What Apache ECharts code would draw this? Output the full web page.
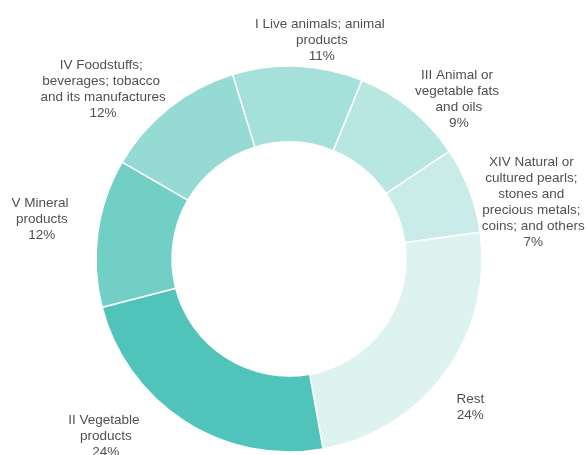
<!DOCTYPE html>
<html>
<head>
<meta charset="utf-8">
<script src="https://cdn.jsdelivr.net/npm/echarts@6/dist/echarts.min.js"></script>
<style>
html, body { margin: 0; padding: 0; background: #fff; }
#chart { width: 587px; height: 455px; }
</style>
</head>
<body>
<div id="chart"></div>
<script>
// slices, clockwise from the top
const categories = [
    'I Live animals; animal products',
    'III Animal or vegetable fats and oils',
    'XIV Natural or cultured pearls; stones and precious metals; coins; and others',
    'Rest',
    'II Vegetable products',
    'V Mineral products',
    'IV Foodstuffs; beverages; tobacco and its manufactures'
]
const shares = [10.9, 9.4, 7.2, 24.4, 23.8, 12.4, 11.9]
const colors = ['#a6e0da', '#b8e6e1', '#c9ece8', '#dcf3f0', '#50c4bb', '#72cfc6', '#95dad3']

// label wrap width and nudge from the slice's outer mid point
const wrapWidths = [140, 92, 108, 60, 80, 62, 132]
const labelShift = [[24, -25.5], [48, -10], [64, 12], [25, 35], [-79, 15], [-56, -13], [-66, -18.5]]

const chart = echarts.init(document.getElementById('chart'))

chart.setOption({
    animation: false,
    series: [{
        type: 'pie',
        center: [289, 259],
        radius: [117, 193],
        startAngle: 107,
        clockwise: true,
        avoidLabelOverlap: false,
        itemStyle: { borderColor: '#fff', borderWidth: 1.5 },
        label: {
            position: 'outside',
            color: '#505050',
            fontFamily: 'Liberation Sans, Arial, sans-serif',
            fontSize: 13.5,
            lineHeight: 16,
            overflow: 'break',
            formatter: p => p.name + '\n' + Math.round(p.percent) + '%'
        },
        labelLine: { show: true, length: 8, length2: 0, lineStyle: { opacity: 0 } },
        labelLayout: p => {
            const pts = p.labelLinePoints
            if (!pts) return {}
            const s = labelShift[p.dataIndex]
            return { x: pts[0][0] + s[0], y: pts[0][1] + s[1], align: 'center', verticalAlign: 'middle' }
        },
        emphasis: { disabled: true },
        data: categories.map((name, i) => ({
            name,
            value: shares[i],
            itemStyle: { color: colors[i] },
            label: { width: wrapWidths[i] }
        }))
    }]
})
</script>
</body>
</html>
